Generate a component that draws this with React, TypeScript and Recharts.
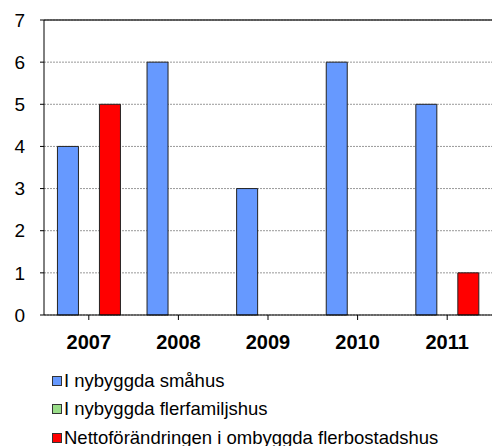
import React from "react";
import { BarChart, Bar, XAxis, YAxis, CartesianGrid, Legend, ReferenceLine } from "recharts";

const years = ["2007", "2008", "2009", "2010", "2011"];
const smahus = [4, 6, 3, 6, 5];
const flerfamiljshus = [0, 0, 0, 0, 0];
const netto = [5, 0, 0, 0, 1];
const yTicks = [0, 1, 2, 3, 4, 5, 6, 7];

const seriesNames = [
  "I nybyggda småhus",
  "I nybyggda flerfamiljshus",
  "Nettoförändringen i ombyggda flerbostadshus",
];
const colors = ["#6699FF", "#99DD88", "#FF0000"];

const data = years.map((y, i) => ({
  year: y,
  a: smahus[i],
  b: flerfamiljshus[i],
  c: netto[i],
}));

const font = "Liberation Sans, Arial, sans-serif";

const LegendContent = () => (
  <div style={{ paddingLeft: 52, paddingTop: 19, fontFamily: font, fontSize: 18.5, color: "#000" }}>
    {seriesNames.map((n, i) => (
      <div key={n} style={{ display: "flex", alignItems: "center", height: 28.5, whiteSpace: "nowrap" }}>
        <span
          style={{
            display: "inline-block",
            width: 8,
            height: 8,
            background: colors[i],
            border: "1px solid #333",
            marginRight: 2,
          }}
        />
        <span>{n}</span>
      </div>
    ))}
  </div>
);

export default function App() {
  return (
    <div style={{ position: "absolute", left: 0, top: 0, background: "#fff" }}>
      <BarChart
        width={499}
        height={446}
        data={data}
        margin={{ top: 20, right: 7, left: 0, bottom: 0 }}
        barGap={0}
        barCategoryGap="15%"
      >
        <CartesianGrid vertical={false} stroke="#999" strokeDasharray="2 1" />
        <ReferenceLine y={7} stroke="#333" strokeWidth={1.5} />
        <XAxis
          dataKey="year"
          height={26.5}
          stroke="#000"
          tickSize={5}
          tick={{ fontFamily: font, fontSize: 20, fontWeight: "bold", fill: "#000", dy: 13 }}
          interval={0}
        />
        <YAxis
          width={44}
          domain={[0, 7]}
          ticks={yTicks}
          interval={0}
          stroke="#000"
          tickSize={4}
          tick={{ fontFamily: font, fontSize: 19, fill: "#000", dx: -13 }}
        />
        <Legend verticalAlign="bottom" content={<LegendContent />} wrapperStyle={{ bottom: -5.75 }} />
        <Bar dataKey="a" name={seriesNames[0]} fill={colors[0]} stroke="#222" strokeWidth={1} isAnimationActive={false} />
        <Bar dataKey="b" name={seriesNames[1]} fill={colors[1]} stroke="#222" strokeWidth={1} isAnimationActive={false} />
        <Bar dataKey="c" name={seriesNames[2]} fill={colors[2]} stroke="#222" strokeWidth={1} isAnimationActive={false} />
      </BarChart>
    </div>
  );
}
